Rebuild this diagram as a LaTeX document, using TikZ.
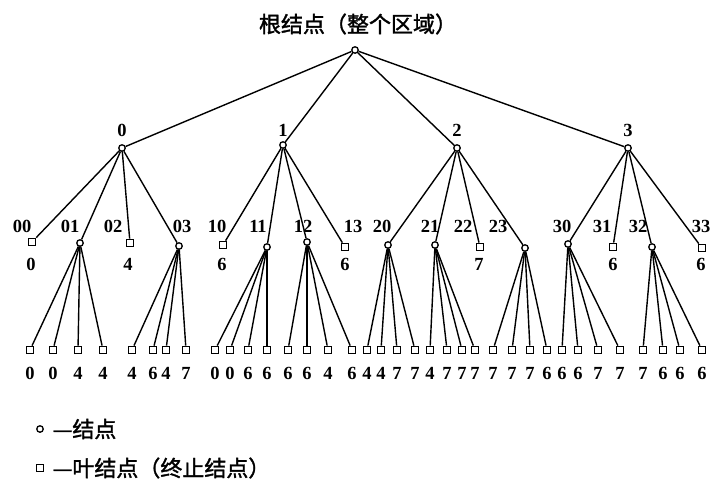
\documentclass[tikz,border=0pt]{standalone}
\usepackage{fontspec}
\setmainfont{Liberation Serif}
\newfontfamily\cjk[FakeBold=1.5]{Noto Sans CJK SC}
\begin{document}
\begin{tikzpicture}[x=1pt,y=-1pt,line width=1.4pt,
  inner/.style={circle,draw,fill=white,minimum size=6.5pt,inner sep=0pt,line width=1.3pt},
  leaf/.style={rectangle,draw,fill=white,minimum size=7.5pt,inner sep=0pt,line width=1.3pt},
  num/.style={font=\fontsize{18.5}{18.5}\selectfont\bfseries,inner sep=0pt},
  cjkt/.style={font=\cjk\fontsize{22}{22}\selectfont,inner sep=0pt}]
\useasboundingbox (0,0) rectangle (712,480);
% root
\node[inner] (r) at (355,50) {};
\node[cjkt] (rt) at (358,24) {根结点（整个区域）};
% level 1
\foreach \n/\x/\y in {0/122/148,1/283/145,2/457/148,3/628/148}{
  \node[inner] (n\n) at (\x,\y) {};
  \node[num] (l\n) at (\x,130) {\n};
  \draw (r) -- (n\n);
}
% level 2
\foreach \n/\lx/\nx/\ny/\t/\p in {
  00/22/32/242/leaf/0, 01/70/80/243/inner/0, 02/113/130/243/leaf/0, 03/182/179/246/inner/0,
  10/217/223/245/leaf/1, 11/258/267/247/inner/1, 12/303/307/242/inner/1, 13/353/345/247/leaf/1,
  20/382/388/245/inner/2, 21/430/435/245/inner/2, 22/463/480/247/leaf/2, 23/498/525/248/inner/2,
  30/562/568/244/inner/3, 31/602/613/247/leaf/3, 32/638/652/247/inner/3, 33/701/702/248/leaf/3}{
  \node[\t] (n\n) at (\nx,\ny) {};
  \node[num] (l\n) at (\lx,226) {\n};
  \draw (n\p) -- (n\n);
}
% values of level-2 leaves
\foreach \n/\x/\v in {00/31/0,02/128/4,10/222/6,13/345/6,22/479/7,31/613/6,33/701/6}{
  \node[num] (v\n) at (\x,264) {\v};
}
% bottom leaves
\foreach \p/\i/\x/\v in {
  01/a/30/0, 01/b/53/0, 01/c/78/4, 01/d/103/4,
  03/a/132/4, 03/b/153/6, 03/c/166/4, 03/d/186/7,
  11/a/215/0, 11/b/230/0, 11/c/248/6, 11/d/267/6,
  12/a/288/6, 12/b/307/6, 12/c/328/4, 12/d/352/6,
  20/a/367/4, 20/b/381/4, 20/c/397/7, 20/d/415/7,
  21/a/430/4, 21/b/447/7, 21/c/462/7, 21/d/475/7,
  23/a/493/7, 23/b/512/7, 23/c/530/7, 23/d/547/6,
  30/a/562/6, 30/b/578/6, 30/c/598/7, 30/d/620/7,
  32/a/643/7, 32/b/663/6, 32/c/680/6, 32/d/702/6}{
  \node[leaf] (b\p\i) at (\x,350) {};
  \node[num] (v\p\i) at (\x,373) {\v};
  \draw (n\p) -- (b\p\i);
}
% legend
\node[inner] (lg1) at (40,429) {};
\node[cjkt,anchor=west] (lt1) at (52,429) {—结点};
\node[leaf] (lg2) at (40,468) {};
\node[cjkt,anchor=west] (lt2) at (52,468) {—叶结点（终止结点）};
\end{tikzpicture}
\end{document}
